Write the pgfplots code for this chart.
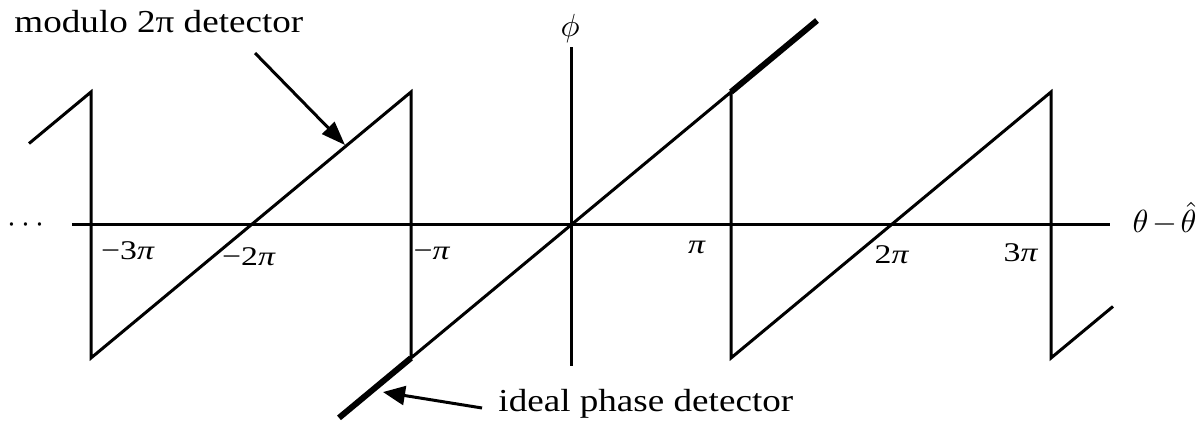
\documentclass[border=0pt]{standalone}
\usepackage{pgfplots}
\pgfplotsset{compat=1.18}
\usepackage{fontspec}
\setmainfont{Liberation Serif}
\usetikzlibrary{arrows.meta}

% x in units of pi (80pt per pi), y in units of pi (66.5pt per pi)
\begin{document}
\begin{tikzpicture}
\begin{axis}[
  x=80pt, y=66.5pt,
  xmin=-3.119, xmax=3.369, ymin=-1.060, ymax=1.338,
  axis lines=middle,
  axis line style={line width=1.5pt, -},
  ticks=none,
  clip=false,
]
% page frame
\path (axis cs:-3.56875,-1.5188) rectangle (axis cs:3.95625,1.6917);

% modulo 2pi phase detector characteristic
\addplot[black, line width=1.5pt, line join=miter] coordinates {
  (-3.3875,0.6125) (-3,1) (-3,-1) (-1,1) (-1,-1)
  (1,1) (1,-1) (3,1) (3,-1) (3.3875,-0.6125)
};

% ideal (linear) phase detector beyond +-pi
\addplot[black, line width=3pt] coordinates {(-1.45,-1.45) (-1,-1)};
\addplot[black, line width=3pt] coordinates {(1,1) (1.5375,1.5375)};

% annotation arrows
\draw[line width=1.5pt, -{Triangle[length=12pt,width=8.5pt]}]
  (axis cs:-1.975,1.293) -- (axis cs:-1.4125,0.6015);
\draw[line width=1.5pt, -{Triangle[length=11pt,width=9.5pt]}]
  (axis cs:-0.556,-1.376) -- (axis cs:-1.175,-1.256);

% annotations
\node[anchor=base west, xscale=1.16, inner sep=0pt, font=\fontsize{16}{19}\selectfont]
  at (axis cs:-3.48125,1.4436) {modulo 2π detector};
\node[anchor=base west, xscale=1.16, inner sep=0pt, font=\fontsize{16}{19}\selectfont]
  at (axis cs:-0.45625,-1.406) {ideal phase detector};

% tick labels
\begin{scope}[every node/.style={anchor=base, inner sep=0pt, xscale=1.25, font=\fontsize{13.5}{16}\selectfont}]
\node at (axis cs:-2.769,-0.263) {−3\textit{π}};
\node at (axis cs:-2.0125,-0.308) {−2\textit{π}};
\node at (axis cs:-0.869,-0.263) {−\textit{π}};
\node at (axis cs:0.7875,-0.218) {\textit{π}};
\node at (axis cs:2.006,-0.293) {2\textit{π}};
\node at (axis cs:2.8125,-0.278) {3\textit{π}};
\end{scope}

% axis names
\node[anchor=center, inner sep=0pt, scale=1.6]
  at (axis cs:-0.006,1.481) {$\phi$};
\node[anchor=base west, inner sep=0pt, scale=1.6]
  at (axis cs:3.5063,-0.06) {$\theta\mkern2mu{-}\mkern2mu\hat{\theta}$};
\node[anchor=base, inner sep=0pt, scale=1.6]
  at (axis cs:-3.406,-0.0564) {$\cdots$};
\end{axis}
\end{tikzpicture}
\end{document}
